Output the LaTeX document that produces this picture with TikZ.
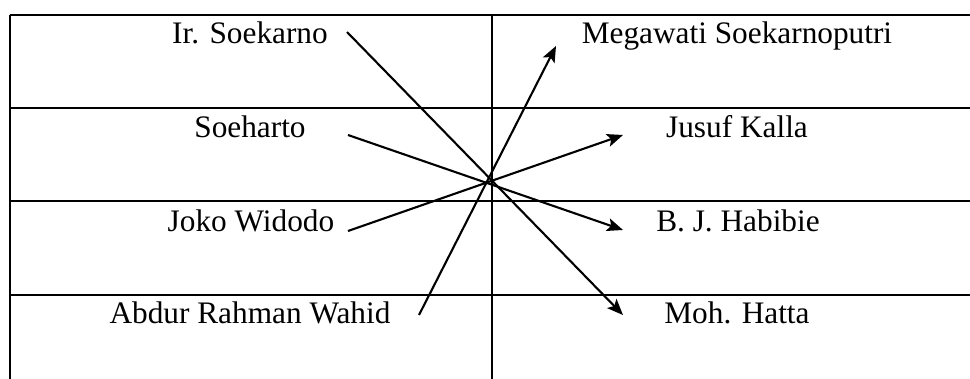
\documentclass[tikz,border=0pt]{standalone}
\usepackage{fontspec}
\setmainfont{Liberation Serif}
\usetikzlibrary{arrows.meta}
\begin{document}
\begin{tikzpicture}[x=1pt,y=-1pt,
  grid/.style={line width=1.8pt},
  lbl/.style={anchor=base,inner sep=0pt,font=\fontsize{31.3}{37}\selectfont},
  link/.style={line width=2.1pt,-{Stealth[length=16pt,width=13pt,inset=3.5pt]}}]
\useasboundingbox (0,0) rectangle (970,379);
% table
\draw[grid] (10,15) -- (970,15);
\draw[grid] (10,108) -- (970,108);
\draw[grid] (10,201) -- (970,201);
\draw[grid] (10,295) -- (970,295);
\draw[grid] (10,15) -- (10,379);
\draw[grid] (492,15) -- (492,379);
% labels
\node[lbl] (soekarno) at (250,44) {Ir. Soekarno};
\node[lbl] (soeharto) at (250,138) {Soeharto};
\node[lbl] (jokowi) at (251,232) {Joko Widodo};
\node[lbl] (gusdur) at (250,324) {Abdur Rahman Wahid};
\node[lbl] (mega) at (737,44) {Megawati Soekarnoputri};
\node[lbl] (jk) at (737,138) {Jusuf Kalla};
\node[lbl] (habibie) at (738,232) {B. J. Habibie};
\node[lbl] (hatta) at (737,324) {Moh. Hatta};
% arrow ends
\coordinate (a1) at (347,32);  \coordinate (b1) at (623,315);
\coordinate (a2) at (348,135); \coordinate (b2) at (623,230);
\coordinate (a3) at (348,231); \coordinate (b3) at (623,135);
\coordinate (a4) at (419,315); \coordinate (b4) at (556,46);
\draw[link] (a1) -- (b1);
\draw[link] (a2) -- (b2);
\draw[link] (a3) -- (b3);
\draw[link] (a4) -- (b4);
\end{tikzpicture}
\end{document}
